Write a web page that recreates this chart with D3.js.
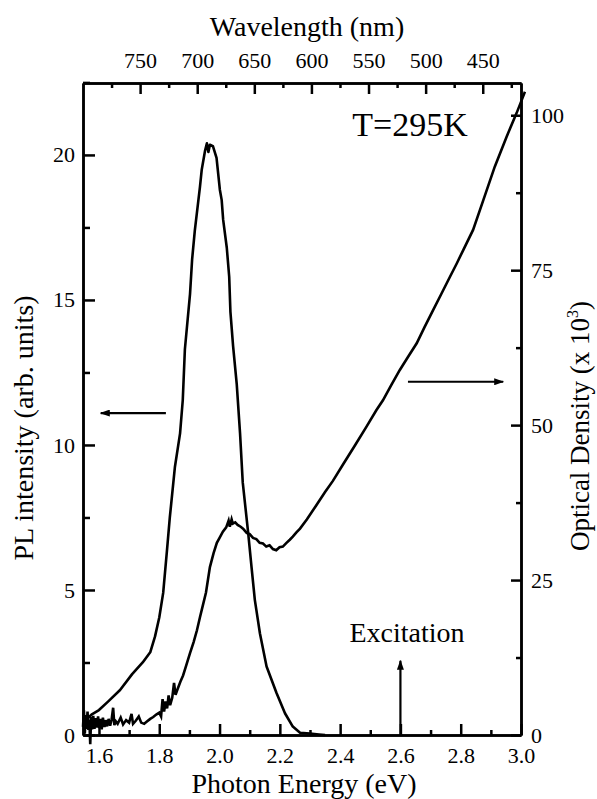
<!DOCTYPE html>
<html>
<head>
<meta charset="utf-8">
<script src="https://cdn.jsdelivr.net/npm/d3@7"></script>
<style>
  body { margin: 0; background: #fff; }
  svg text { font-family: "Liberation Serif", "Times New Roman", serif !important; fill: #000; }
  .axis path, .axis line { stroke: #000; stroke-width: 2.5; }
  .axis text { font-size: 22px; }
</style>
</head>
<body>
<script>
// PL spectrum (left axis)
const plEnergy = [1.550, 1.575, 1.600, 1.630, 1.670, 1.710, 1.745, 1.770, 1.786, 1.800,
  1.813, 1.825, 1.835, 1.852, 1.869, 1.878, 1.885, 1.902, 1.909, 1.918,
  1.935, 1.941, 1.952, 1.958, 1.963, 1.968, 1.978, 1.990, 2.001, 2.007,
  2.012, 2.024, 2.032, 2.036, 2.045, 2.057, 2.068, 2.077, 2.095, 2.106,
  2.117, 2.134, 2.156, 2.189, 2.217, 2.243, 2.267, 2.300, 2.330, 2.350];
const plValue = [0.45, 0.70, 0.86, 1.15, 1.55, 2.10, 2.50, 2.85, 3.40, 4.05,
  4.90, 6.30, 7.50, 9.25, 10.40, 11.55, 13.30, 15.20, 16.40, 17.40,
  18.90, 19.50, 20.15, 20.40, 20.10, 20.35, 20.30, 19.90, 18.80, 18.45,
  17.76, 16.80, 15.80, 14.60, 13.40, 12.10, 10.40, 8.70, 6.96, 5.80,
  4.66, 3.50, 2.36, 1.45, 0.75, 0.29, 0.08, 0.05, 0.02, 0.00];

// absorption spectrum (right axis, OD x 10^3)
const odEnergy = [1.547, 1.550, 1.553, 1.556, 1.559, 1.562, 1.565, 1.568, 1.571, 1.574,
  1.577, 1.581, 1.585, 1.589, 1.593, 1.597, 1.601, 1.605, 1.609, 1.613,
  1.618, 1.622, 1.627, 1.632, 1.637, 1.642, 1.647, 1.651, 1.656, 1.662,
  1.672, 1.680, 1.690, 1.700, 1.708, 1.713, 1.722, 1.732, 1.740, 1.750,
  1.760, 1.770, 1.780, 1.790, 1.800, 1.806, 1.811, 1.816, 1.821, 1.826,
  1.831, 1.836, 1.843, 1.849, 1.854, 1.860, 1.870, 1.879, 1.890, 1.902,
  1.914, 1.925, 1.935, 1.945, 1.955, 1.968, 1.980, 1.991, 2.000, 2.011,
  2.022, 2.030, 2.034, 2.040, 2.044, 2.052, 2.060, 2.070, 2.078, 2.090,
  2.100, 2.111, 2.122, 2.133, 2.144, 2.155, 2.166, 2.177, 2.188, 2.199,
  2.210, 2.222, 2.233, 2.243, 2.255, 2.267, 2.290, 2.320, 2.350, 2.376,
  2.409, 2.450, 2.488, 2.520, 2.542, 2.570, 2.598, 2.625, 2.654, 2.680,
  2.708, 2.736, 2.764, 2.786, 2.808, 2.841, 2.875, 2.913, 2.952, 2.985,
  3.002, 3.013];
const odValue = [1.3, 4.0, 0.2, 3.2, 1.0, 3.8, 0.8, 2.5, -1.5, 2.9,
  0.9, 3.1, 1.0, 2.7, 1.2, 3.0, 1.1, 2.6, 0.9, 2.8,
  1.3, 2.4, 1.4, 2.6, 1.5, 2.5, 4.4, 1.6, 2.2, 1.8,
  2.8, 1.7, 2.4, 2.0, 3.4, 1.8, 2.3, 3.0, 2.0, 1.8,
  2.2, 2.6, 2.9, 3.3, 3.6, 3.0, 5.8, 3.8, 5.4, 4.3,
  6.4, 4.8, 6.0, 8.4, 6.5, 7.3, 8.6, 9.6, 11.3, 13.2,
  15.0, 16.9, 19.0, 21.0, 23.0, 27.1, 29.3, 31.0, 31.8, 32.8,
  33.5, 34.6, 33.6, 34.8, 34.1, 34.3, 33.9, 33.6, 33.3, 32.6,
  32.4, 31.8, 31.6, 31.0, 30.9, 30.4, 30.6, 30.0, 29.8, 30.3,
  30.4, 31.0, 31.5, 32.0, 32.7, 33.3, 34.8, 37.0, 39.2, 41.0,
  43.6, 46.8, 49.8, 52.4, 54.0, 56.5, 58.9, 61.0, 63.2, 65.8,
  68.5, 71.2, 73.9, 76.0, 78.2, 81.5, 86.3, 91.7, 96.5, 100.3,
  102.4, 103.8];

// ticks
const energyMajor = [1.6, 1.8, 2.0, 2.2, 2.4, 2.6, 2.8, 3.0];
const energyMinor = [1.7, 1.9, 2.1, 2.3, 2.5, 2.7, 2.9];
const plMajor = [0, 5, 10, 15, 20];
const plMinor = [2.5, 7.5, 12.5, 17.5, 22.5];
const odMajor = [0, 25, 50, 75, 100];
const odMinor = [12.5, 37.5, 62.5, 87.5];
const waveMajor = [750, 700, 650, 600, 550, 500, 450];
const waveMinor = [775, 725, 675, 625, 575, 525, 475, 425];

const serif = "Liberation Serif, Times New Roman, serif";

//SVG setup
const margin = { top: 83, right: 76, bottom: 64, left: 83 },
  width = 597 - margin.left - margin.right,
  height = 799 - margin.top - margin.bottom;

const svg = d3.select("body").append("svg")
  .attr("width", 597)
  .attr("height", 799)
  .append("g")
  .attr("transform", `translate(${margin.left}, ${margin.top})`);

//scales
const x = d3.scaleLinear().domain([1.547, 3.0]).range([0, width]);
const yPL = d3.scaleLinear().domain([0, 22.48]).range([height, 0]);
const yOD = d3.scaleLinear().domain([0, 105.2]).range([height, 0]);
const xWave = d3.scaleLinear().domain([800, 416.5]).range([0, width]);

//axes: minor ticks first, then major with labels
function addAxis(axisFn, scale, major, minor, fmt, majLen, minLen, pad, transform) {
  svg.append("g").attr("class", "axis").attr("transform", transform)
    .call(axisFn(scale).tickValues(minor).tickSizeInner(-minLen).tickSizeOuter(0).tickFormat(""));
  svg.append("g").attr("class", "axis").attr("transform", transform)
    .attr("font-family", serif)
    .call(axisFn(scale).tickValues(major).tickSizeInner(-majLen).tickSizeOuter(0)
      .tickPadding(pad).tickFormat(fmt))
    .attr("font-family", serif)
    .attr("font-size", 22);
}

addAxis(d3.axisBottom, x, energyMajor, energyMinor, d3.format(".1f"), 11, 5, 12, `translate(0,${height})`);
addAxis(d3.axisTop, xWave, waveMajor, waveMinor, d3.format("d"), 11, 5, 15, "translate(0,0)");
addAxis(d3.axisLeft, yPL, plMajor, plMinor, d3.format("d"), 12, 7, 8, "translate(0,0)");
addAxis(d3.axisRight, yOD, odMajor, odMinor, d3.format("d"), 10, 5, 10, `translate(${width},0)`);

//curves
const plLine = d3.line().x((d) => x(d[0])).y((d) => yPL(d[1]));
const odLine = d3.line().x((d) => x(d[0])).y((d) => yOD(d[1]));

svg.append("path")
  .datum(plEnergy.map((e, i) => [e, plValue[i]]))
  .attr("d", plLine)
  .attr("fill", "none")
  .attr("stroke", "#000")
  .attr("stroke-width", 2.6)
  .attr("stroke-linejoin", "round");

svg.append("path")
  .datum(odEnergy.map((e, i) => [e, odValue[i]]))
  .attr("d", odLine)
  .attr("fill", "none")
  .attr("stroke", "#000")
  .attr("stroke-width", 2.6)
  .attr("stroke-linejoin", "miter");

//arrow markers
svg.append("defs").append("marker")
  .attr("id", "head")
  .attr("markerUnits", "userSpaceOnUse")
  .attr("viewBox", "0 0 10 7")
  .attr("refX", 9)
  .attr("refY", 3.5)
  .attr("markerWidth", 10)
  .attr("markerHeight", 7)
  .attr("orient", "auto")
  .append("path")
  .attr("d", "M0,0 L10,3.5 L0,7 Z")
  .attr("fill", "#000");

function arrow(x1, y1, x2, y2) {
  svg.append("line")
    .attr("x1", x1).attr("y1", y1)
    .attr("x2", x2).attr("y2", y2)
    .attr("stroke", "#000")
    .attr("stroke-width", 2.2)
    .attr("marker-end", "url(#head)");
}

arrow(x(1.822), yPL(11.1), x(1.606), yPL(11.1));
arrow(x(2.625), yOD(57), x(2.941), yOD(57));
arrow(x(2.6), yPL(0), x(2.6), yPL(2.56));

//texts
function label(px, py, size, str) {
  return svg.append("text")
    .attr("x", px)
    .attr("y", py)
    .attr("text-anchor", "middle")
    .attr("font-family", serif)
    .style("font-size", size + "px")
    .text(str);
}

label(x(2.622), yPL(3.2), 28, "Excitation");
label(x(2.632), yPL(20.66), 34, "T=295K");
label(width / 2 + 2, height + 58, 28, "Photon Energy (eV)");
label(width / 2 + 5, -47, 28, "Wavelength (nm)");

label(0, 0, 28, "PL intensity (arb. units)")
  .attr("transform", `translate(${33 - margin.left}, ${428 - margin.top}) rotate(-90)`);

const odLabel = label(0, 0, 27, "")
  .attr("transform", `translate(${589 - margin.left}, ${426 - margin.top}) rotate(-90)`);
odLabel.append("tspan").text("Optical Density (x 10");
odLabel.append("tspan").attr("dy", -11).style("font-size", "16px").text("3");
odLabel.append("tspan").attr("dy", 11).text(")");
</script>
</body>
</html>
